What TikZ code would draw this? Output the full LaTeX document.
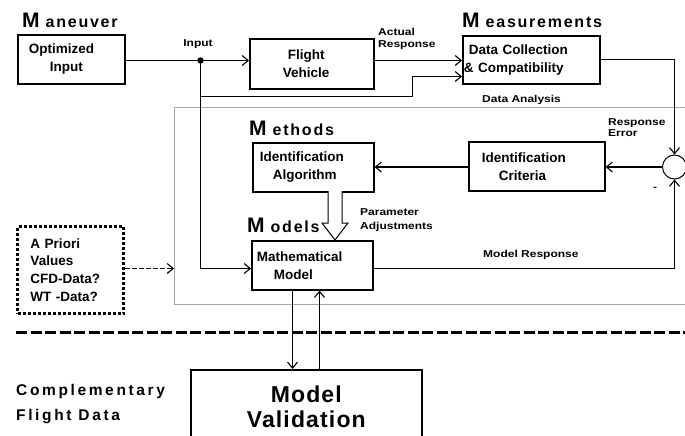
\documentclass[tikz,border=0pt]{standalone}
\usepackage{fontspec}
\setmainfont{Liberation Sans}
\newfontfamily\lblfont{Liberation Sans}[FakeStretch=1.2]
\newfontfamily\ttlfont{Liberation Sans}[LetterSpace=11]
\newfontfamily\cmpfont{Liberation Sans}[LetterSpace=17]
\newfontfamily\mvfont{Liberation Sans}[LetterSpace=5]
\usetikzlibrary{arrows.meta,calc}
\begin{document}
\begin{tikzpicture}[x=1pt,y=-1pt,
  >={Straight Barb[length=6pt,width=10pt]},
  box/.style={draw, line width=1.6pt, rectangle, anchor=north west, inner xsep=0pt, inner ysep=0pt, align=left, font=\fontsize{13.5}{18}\selectfont\bfseries},
  lbl/.style={inner sep=0pt, align=left, font=\lblfont\fontsize{10}{12}\selectfont\bfseries},
  conn/.style={line width=1.1pt},
  ttl/.style={inner sep=0pt, anchor=base west}
]
\useasboundingbox (0,0) rectangle (685,436);
\clip (0,0) rectangle (685,436);

% data analysis frame
\draw[gray!70, line width=1pt] (690,107.5) -- (174.5,107.5) -- (174.5,304.5) -- (690,304.5);
% separator
\draw[line width=3pt, dash pattern=on 11pt off 3.5pt] (16,332) -- (690,332);

% titles
\node[ttl] (tman) at (22,28) {{\fontsize{21}{21}\selectfont\bfseries M}\hspace{6pt}{\ttlfont\fontsize{16}{16}\selectfont\bfseries aneuver}};
\node[ttl] (tmeas) at (462,28) {{\fontsize{21}{21}\selectfont\bfseries M}\hspace{6pt}{\ttlfont\fontsize{16}{16}\selectfont\bfseries easurements}};
\node[ttl] (tmeth) at (249,135) {{\fontsize{21}{21}\selectfont\bfseries M}\hspace{6pt}{\ttlfont\fontsize{16}{16}\selectfont\bfseries ethods}};
\node[ttl] (tmod) at (247,232) {{\fontsize{21}{21}\selectfont\bfseries M}\hspace{6pt}{\ttlfont\fontsize{16}{16}\selectfont\bfseries odels}};
\node[ttl] (cf1) at (16,395) {\cmpfont\fontsize{15.5}{15.5}\selectfont\bfseries Complementary};
\node[ttl] (cf2) at (16,420) {\cmpfont\fontsize{15.5}{15.5}\selectfont\bfseries Flight Data};

% boxes
\node[box, text width=107pt, minimum height=49pt] (opt) at (17,34) {\hspace*{11pt}Optimized\\\hspace*{32pt}Input};
\node[box, text width=124pt, minimum height=50pt] (fv) at (249,38) {\hspace*{38pt}Flight\\\hspace*{33pt}Vehicle};
\node[box, text width=137pt, minimum height=48pt] (dc) at (462,35) {\hspace*{6pt}Data Collection\\\hspace*{1pt}\& Compatibility};
\node[box, text width=121pt, minimum height=49pt] (alg) at (252,142) {\hspace*{7pt}Identification\\\hspace*{20pt}Algorithm};
\node[box, text width=136pt, minimum height=49pt] (crit) at (468,141) {\hspace*{13pt}Identification\\\hspace*{30pt}Criteria};
\node[box, text width=121pt, minimum height=49pt] (mm) at (251,240) {\hspace*{5pt}Mathematical\\\hspace*{22pt}Model};
\node[box, text width=231pt, minimum height=74pt, align=center, font=\mvfont\fontsize{23}{25}\selectfont\bfseries] (mv) at (190,369) {Model\\Validation};
\node[box, text width=106pt, minimum height=87pt, line width=3pt, dash pattern=on 3pt off 2pt, font=\fontsize{13.5}{17.7}\selectfont\bfseries] (apr) at (16,225) {\hspace*{13pt}A Priori\\\hspace*{13pt}Values\\\hspace*{13pt}CFD-Data?\\\hspace*{13pt}WT -Data?};

% summing junction
\node[circle, draw, line width=1pt, minimum size=24pt, inner sep=0pt] (sum) at (674.5,167) {};

% coordinates
\coordinate (inp) at (200.5,60.5);
\coordinate (br) at (200.5,96.5);
\coordinate (bk) at (412.5,76.5);
\coordinate (mrc) at (674.5,268.5);
\coordinate (fl) at (174,268.5);
\coordinate (dx) at (292.5,0);
\coordinate (ux) at (319.5,0);

% connectors
\draw[conn,->] (opt.east |- inp) -- (inp) -- (fv.west |- inp);
\fill (inp) circle (3.2pt);
\draw[conn,->] (inp) -- (inp |- mrc) -- (mm.west |- mrc);
\draw[conn,->] (br) -| (bk) -- (dc.west |- bk);
\draw[conn,->] (fv.east |- inp) -- (dc.west |- inp);
\draw[conn,->] (dc.east) -| (sum.north);
\draw[conn,->] (sum.west) -- (crit.east |- sum.west);
\draw[conn,->] (crit.west |- sum.west) -- (alg.east |- sum.west);
\draw[conn,->] (mm.east |- mrc) -- (mrc) -- (sum.south);
\draw[conn,->] (mm.south -| dx) -- (mv.north -| dx);
\draw[conn,->] (mv.north -| ux) -- (mm.south -| ux);
\draw[conn,->, dash pattern=on 5pt off 2pt] (apr.east |- fl) -- (fl);

% hollow parameter arrow
\draw[line width=1pt, fill=white] (328,191) -- (328,223) -- (322,223) -- (335,240) -- (348,223) -- (342,223) -- (342,191);

% labels
\node[lbl] (linp) at (198,44) {Input};
\node[lbl, anchor=west] (lact) at (378,38.5) {Actual\\Response};
\node[lbl, anchor=west] (lda) at (482,100) {Data Analysis};
\node[lbl, anchor=west, font=\lblfont\fontsize{10}{11}\selectfont\bfseries] (lre) at (608,127.5) {Response\\Error};
\node[lbl] (lminus) at (655,189) {-};
\node[lbl, anchor=west, font=\lblfont\fontsize{10}{14}\selectfont\bfseries] (lpa) at (360,220) {Parameter\\Adjustments};
\node[lbl, anchor=west] (lmr) at (483,255) {Model Response};
\end{tikzpicture}
\end{document}
